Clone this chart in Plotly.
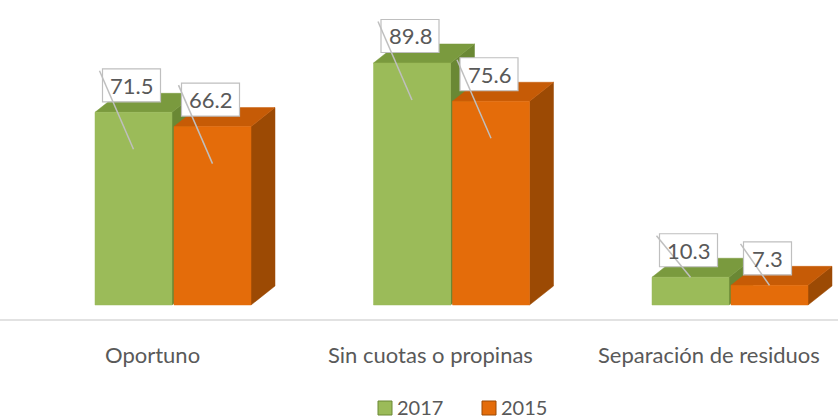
import plotly.graph_objects as go

categories = ["Oportuno", "Sin cuotas o propinas", "Separación de residuos"]
series_names = ["2017", "2015"]
values_2017 = [71.5, 89.8, 10.3]
values_2015 = [66.2, 75.6, 7.3]

# colours per series: front, top, side
styles = {
    "2017": dict(front="#9BBB59", top="#7A9A3E", side="#6A8834"),
    "2015": dict(front="#E46C0A", top="#C65B06", side="#9C4A04"),
}

# pixel -> data unit conversion (x: category spacing, y: value scale)
PX_X = 1 / 278.5
PX_Y = 1 / 2.695
BW = 77 * PX_X          # bar face width
GAP = 2 * PX_X
DX = 24 * PX_X          # 3d depth
DY = 19 * PX_Y
FONT = "Lato, 'Open Sans', sans-serif"
TXT = "#595959"

fig = go.Figure()
shapes = []
annotations = []

for si, (name, vals) in enumerate(zip(series_names, [values_2017, values_2015])):
    st = styles[name]
    off = (-0.5 if si == 0 else 0.5) * (BW + GAP)
    side_x, side_y, top_x, top_y, fr_x, fr_y = [], [], [], [], [], []
    for i, v in enumerate(vals):
        x0 = i + off - BW / 2
        x1 = i + off + BW / 2
        side_x += [x1, x1 + DX, x1 + DX, x1, x1, None]
        side_y += [0, DY, v + DY, v, 0, None]
        top_x += [x0, x1, x1 + DX, x0 + DX, x0, None]
        top_y += [v, v, v + DY, v + DY, v, None]
        fr_x += [x0, x1, x1, x0, x0, None]
        fr_y += [0, 0, v, v, 0, None]
    for xs, ys, col in [(side_x, side_y, st["side"]), (top_x, top_y, st["top"]), (fr_x, fr_y, st["front"])]:
        fig.add_trace(go.Scatter(x=xs, y=ys, fill="toself", fillcolor=col, mode="lines",
                                 line=dict(width=0.5, color=col), hoverinfo="skip", showlegend=False))

    # data labels with leader lines
    for i, v in enumerate(vals):
        xc = i + off
        label = f"{v:.1f}"
        w = (18 + 10 * len(label)) * PX_X
        h = 33 * PX_Y
        lx = xc - 2 * PX_X
        ly = v + 27 * PX_Y
        shapes.append(dict(type="rect", x0=lx - w / 2, x1=lx + w / 2, y0=ly - h / 2, y1=ly + h / 2,
                           fillcolor="white", line=dict(color="#BFBFBF", width=1.2), layer="above"))
        drop = 37 * PX_Y if v > 20 else 0
        shapes.append(dict(type="line", x0=lx - w / 2 - 3 * PX_X, y0=ly + h / 2 - 2 * PX_Y,
                           x1=xc, y1=v - drop, line=dict(color="#BFBFBF", width=1.5), layer="above"))
        annotations.append(dict(x=lx, y=ly, text=label, showarrow=False,
                                font=dict(family=FONT, size=22, color=TXT)))

# category labels
for i, c in enumerate(categories):
    annotations.append(dict(x=i - 21 * PX_X, y=-18.2, text=c, showarrow=False,
                            font=dict(family=FONT, size=22, color=TXT)))

# legend, drawn by hand so the square sits right next to the text
leg_x = [378 / 838, 482 / 838]
for name, lx in zip(series_names, leg_x):
    shapes.append(dict(type="rect", xref="paper", yref="paper",
                       x0=lx, x1=lx + 14 / 838, y0=(419 - 415) / 419, y1=(419 - 401) / 419,
                       fillcolor=styles[name]["front"], line=dict(color=styles[name]["side"], width=1)))
    annotations.append(dict(xref="paper", yref="paper", x=lx + 17 / 838, y=(419 - 407) / 419,
                            xanchor="left", yanchor="middle", text=name, showarrow=False,
                            font=dict(family=FONT, size=20, color=TXT)))

# floor line
shapes.append(dict(type="line", xref="paper", x0=0, x1=1, y0=-5.57, y1=-5.57,
                   line=dict(color="#D9D9D9", width=1.3), layer="below"))

fig.update_layout(
    width=838, height=419,
    margin=dict(l=0, r=0, t=0, b=0),
    paper_bgcolor="white", plot_bgcolor="white",
    xaxis=dict(range=[-173 * PX_X, 665 * PX_X], visible=False, fixedrange=True),
    yaxis=dict(range=[-114 * PX_Y, 305 * PX_Y], visible=False, fixedrange=True),
    shapes=shapes,
    annotations=annotations,
    showlegend=False,
)

fig.write_html("out.html", config={"displayModeBar": False},
               post_script="document.body.style.margin='0';")
